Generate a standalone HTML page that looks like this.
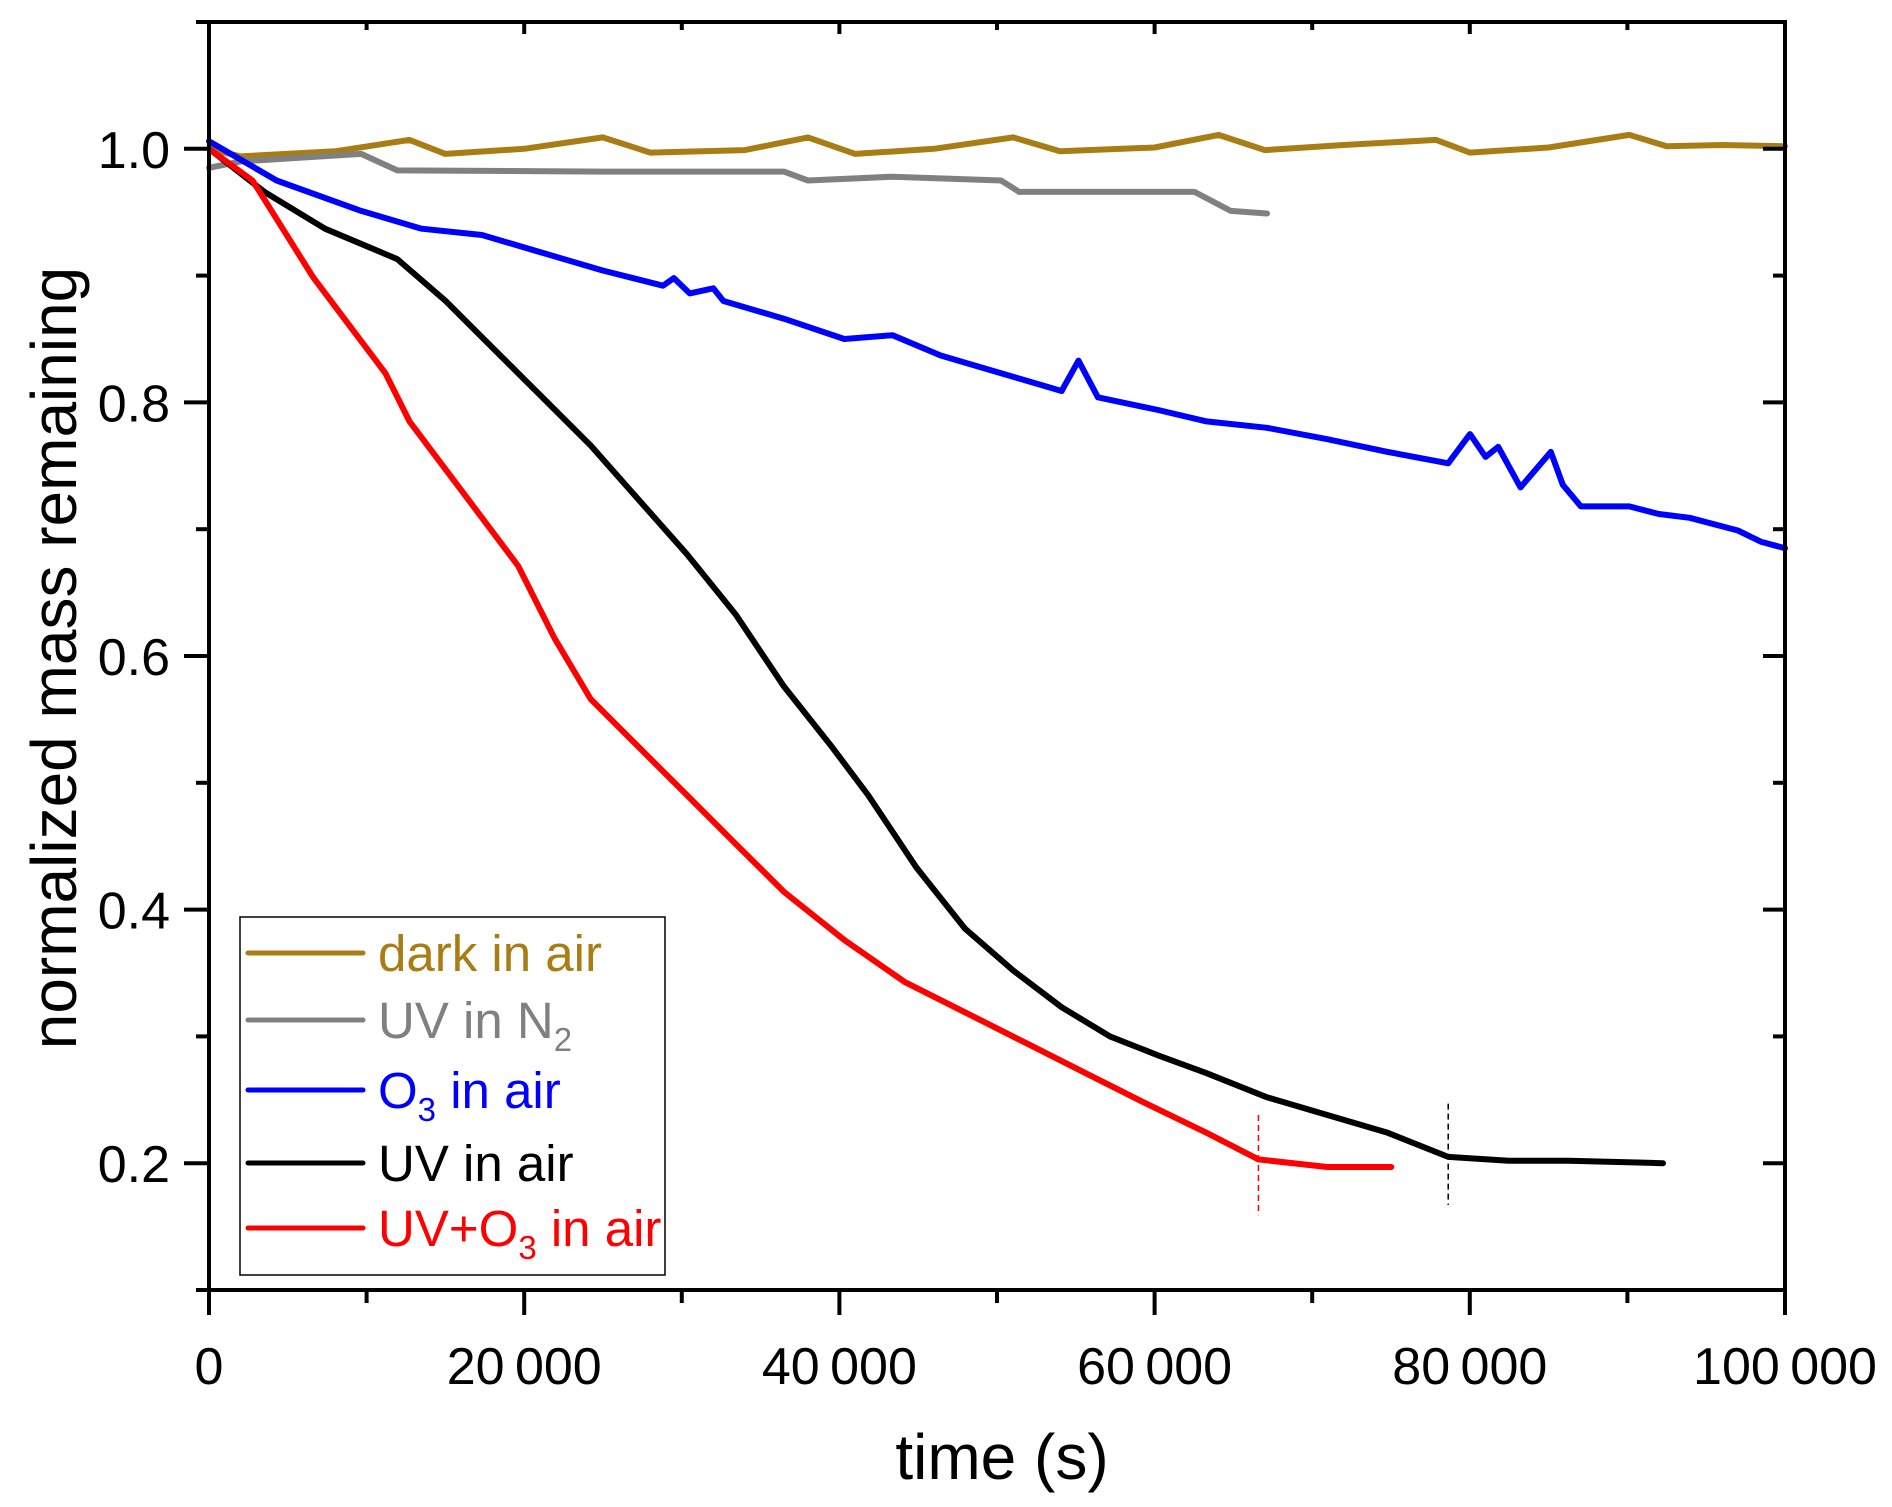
<!DOCTYPE html>
<html><head><meta charset="utf-8"><style>
html,body{margin:0;padding:0;background:#fff;}
svg{display:block;font-family:"Liberation Sans",Arial,sans-serif;}
</style></head><body>
<svg id="chart" width="1892" height="1507" viewBox="0 0 1892 1507">
<g id="series"></g>
<g id="axes"></g>
<g id="legend"></g>
</svg>
<script>
const xTicks = [0, 20000, 40000, 60000, 80000, 100000];
const xTickLabels = ["0", "20\u2009000", "40\u2009000", "60\u2009000", "80\u2009000", "100\u2009000"];
const xMinorTicks = [10000, 30000, 50000, 70000, 90000];
const yTicks = [0.2, 0.4, 0.6, 0.8, 1.0];
const yTickLabels = ["0.2", "0.4", "0.6", "0.8", "1.0"];
const yMinorTicks = [0.1, 0.3, 0.5, 0.7, 0.9, 1.1];

const darkX = [0,2000,8000,12720,15000,20000,24980,28000,34000,38010,41000,46000,51030,54000,60000,64060,67000,72000,77860,80000,85000,90120,92500,96000,100000];
const darkY = [1.0,0.994,0.998,1.007,0.996,1.0,1.009,0.997,0.999,1.009,0.996,1.0,1.009,0.998,1.001,1.011,0.999,1.003,1.007,0.997,1.001,1.011,1.002,1.003,1.002];
const grayX = [0,2000,9660,11950,24980,36480,38010,43370,50260,51410,62530,64830,67130];
const grayY = [0.985,0.99,0.996,0.983,0.982,0.982,0.975,0.978,0.975,0.966,0.966,0.951,0.949];
const blueX = [0,4290,9660,13490,17320,21150,24980,28810,29500,30500,32000,32640,36480,40310,43370,46430,50260,54100,55170,56400,60230,63300,67130,70960,74790,78630,80010,81000,81800,83220,85140,85900,87050,90120,92000,93950,97010,98500,100000];
const blueY = [1.006,0.975,0.951,0.937,0.932,0.918,0.904,0.892,0.898,0.886,0.89,0.88,0.866,0.85,0.853,0.837,0.823,0.809,0.833,0.804,0.794,0.785,0.78,0.771,0.761,0.752,0.775,0.757,0.765,0.733,0.761,0.735,0.718,0.718,0.712,0.709,0.699,0.69,0.685];
const blackX = [0,3520,7360,11950,15020,18080,21150,24220,27280,30350,33410,36480,39540,41840,44900,47970,51030,54100,57170,60230,63300,67130,70960,74790,78630,82460,86290,92260];
const blackY = [1.0,0.966,0.937,0.913,0.88,0.842,0.804,0.766,0.723,0.68,0.633,0.576,0.528,0.49,0.433,0.385,0.352,0.323,0.3,0.285,0.271,0.252,0.238,0.224,0.205,0.202,0.202,0.2];
const redX = [0,2760,6590,8890,11190,12720,15020,17320,19620,21920,24220,27280,30350,33410,36480,40310,44140,47970,51800,55630,59470,63300,66590,70960,75020];
const redY = [1.0,0.975,0.899,0.861,0.823,0.785,0.747,0.709,0.671,0.614,0.566,0.528,0.49,0.452,0.414,0.376,0.343,0.319,0.295,0.271,0.247,0.224,0.203,0.197,0.197];
const markerX = [66590, 78630];
const markerY0 = [0.238, 0.247];
const markerY1 = [0.159, 0.167];

const L=209,R=1785,T=22,B=1290,XMIN=0,XMAX=100000,YMIN=0.1,YMAX=1.1;
const sx=v=>L+(v-XMIN)/(XMAX-XMIN)*(R-L);
const sy=v=>B-(v-YMIN)/(YMAX-YMIN)*(B-T);
const NS="http://www.w3.org/2000/svg";
function mk(tag,attrs,parent){const e=document.createElementNS(NS,tag);for(const k in attrs)e.setAttribute(k,attrs[k]);parent.appendChild(e);return e;}
const series=document.getElementById('series'),axes=document.getElementById('axes'),legend=document.getElementById('legend');

function line(xs,ys,color,name){
  const pts=xs.map((x,i)=>sx(x).toFixed(1)+','+sy(ys[i]).toFixed(1)).join(' ');
  const p=mk('polyline',{points:pts,fill:'none',stroke:color,'stroke-width':6,'stroke-linejoin':'round','stroke-linecap':'round'},series);
  
  
}
line(darkX,darkY,'#a87d14','series-dark-in-air');
line(grayX,grayY,'#808080','series-uv-in-n2');
line(blueX,blueY,'#0000ff','series-o3-in-air');
line(blackX,blackY,'#000000','series-uv-in-air');
line(redX,redY,'#ff0000','series-uv-o3-in-air');
const mColors=['#ff0000','#000000'];
markerX.forEach((x,i)=>{
  const m=mk('line',{x1:sx(x),x2:sx(x),y1:sy(markerY0[i]),y2:sy(markerY1[i]),stroke:mColors[i],'stroke-width':1.5,'stroke-dasharray':'6,4'},series);
  
  
});

const frame=mk('rect',{x:L,y:T,width:R-L,height:B-T,fill:'none',stroke:'#000','stroke-width':4},axes);


xTicks.forEach((v,i)=>{
  const x=sx(v);
  mk('line',{x1:x,x2:x,y1:B,y2:B+25,stroke:'#000','stroke-width':4},axes);
  mk('line',{x1:x,x2:x,y1:T,y2:T+12,stroke:'#000','stroke-width':4},axes);
  const t=mk('text',{x:x,y:1384,'font-size':52,'text-anchor':'middle',fill:'#000'},axes);
  t.textContent=xTickLabels[i];
  
  
});
xMinorTicks.forEach(v=>{
  const x=sx(v);
  mk('line',{x1:x,x2:x,y1:B,y2:B+13,stroke:'#000','stroke-width':4},axes);
  mk('line',{x1:x,x2:x,y1:T,y2:T+8,stroke:'#000','stroke-width':4},axes);
});
yTicks.forEach((v,i)=>{
  const y=sy(v);
  mk('line',{x1:L-25,x2:L,y1:y,y2:y,stroke:'#000','stroke-width':4},axes);
  mk('line',{x1:R-22,x2:R,y1:y,y2:y,stroke:'#000','stroke-width':4},axes);
  const t=mk('text',{x:170,y:y+19,'font-size':52,'text-anchor':'end',fill:'#000'},axes);
  t.textContent=yTickLabels[i];
  
  
});
yMinorTicks.forEach(v=>{
  const y=sy(v);
  mk('line',{x1:L-13,x2:L,y1:y,y2:y,stroke:'#000','stroke-width':4},axes);
  mk('line',{x1:R-12,x2:R,y1:y,y2:y,stroke:'#000','stroke-width':4},axes);
});
const xt=mk('text',{x:1002,y:1479,'font-size':64,'text-anchor':'middle',fill:'#000'},axes);
xt.textContent='time (s)';


const yt=mk('text',{x:0,y:0,'font-size':64,'text-anchor':'middle',fill:'#000',transform:'translate(76,658) rotate(-90)'},axes);
yt.textContent='normalized mass remaining';



const lb=mk('rect',{x:240,y:917,width:425,height:358,fill:'#fff',stroke:'#000','stroke-width':1.5},legend);


const legNames=['dark in air','UV in N|2','O|3| in air','UV in air','UV+O|3| in air'];
const legColors=['#a87d14','#808080','#0000ff','#000000','#ff0000'];
const legY=[953,1020,1090,1163,1228];
legNames.forEach((n,i)=>{
  const g=mk('g',{},legend);
  
  
  mk('line',{x1:248,x2:363,y1:legY[i],y2:legY[i],stroke:legColors[i],'stroke-width':5,'stroke-linecap':'round'},g);
  const t=mk('text',{x:378,y:legY[i]+18,'font-size':51,fill:legColors[i]},g);
  n.split('|').forEach((part,j)=>{
    const s=mk('tspan',j%2===1?{'font-size':33,dy:13}:(j>0?{dy:-13}:{}),t);
    s.textContent=part;
  });
});
</script>
</body></html>
